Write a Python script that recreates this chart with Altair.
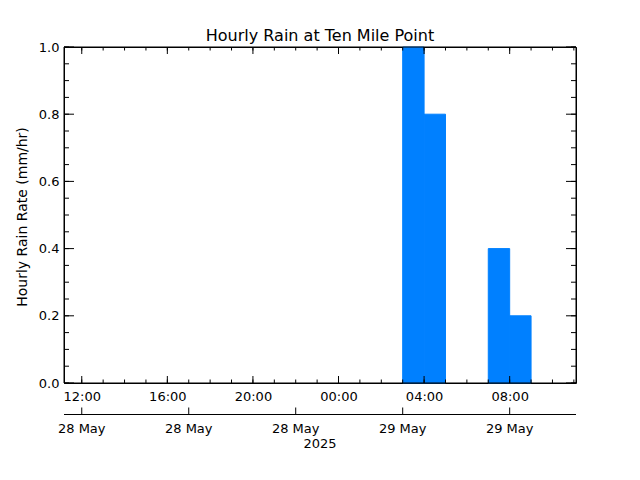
import altair as alt
import pandas as pd

# hours counted from 28 May 2025 00:00
bar_start = [27, 28, 31, 32]
bar_end = [28, 29, 32, 33]
rain = [1.0, 0.8, 0.4, 0.2]

x_domain = [11.17, 35.1]
x_major = [12, 16, 20, 24, 28, 32]
x_minor = list(range(12, 36))
y_major = [0.0, 0.2, 0.4, 0.6, 0.8, 1.0]
y_minor = [round(i * 0.05, 2) for i in range(21)]
date_ticks = [12, 17, 22, 27, 32]
date_labels = ["28 May", "28 May", "28 May", "29 May", "29 May"]
year_label = "2025"
title_text = "Hourly Rain at Ten Mile Point"

W, H = 512, 336
FONT = "DejaVu Sans"
BLUE = "#0080FF"

xs = alt.Scale(domain=x_domain, nice=False, zero=False)
ys = alt.Scale(domain=[0, 1], nice=False, zero=False)

bars_df = pd.DataFrame({"start": bar_start, "end": bar_end, "rain": rain})
xmaj_df = pd.DataFrame({"h": x_major})
xmin_df = pd.DataFrame({"h": x_minor})
ymaj_df = pd.DataFrame({"v": y_major})
ymin_df = pd.DataFrame({"v": y_minor})
date_df = pd.DataFrame({"h": date_ticks, "label": date_labels})

label_expr = "(datum.value % 24 < 10 ? '0' : '') + (datum.value % 24) + ':00'"

x_axis = alt.Axis(values=x_major, labelExpr=label_expr, tickSize=0, domain=False,
                  labelPadding=7, labelBaseline="top", labelFont=FONT,
                  labelFontSize=13, labelColor="black", title=None, grid=False,
                  labelFlush=False, labelOverlap=False)
y_axis = alt.Axis(values=y_major, format=".1f", tickSize=0, domain=False,
                  labelPadding=5, labelFont=FONT, labelFontSize=13,
                  labelColor="black", grid=False, labelFlush=False,
                  labelOverlap=False,
                  title="Hourly Rain Rate (mm/hr)", titleFont=FONT,
                  titleFontSize=14, titleFontWeight="normal", titleColor="black",
                  titleX=-42, titleY=169.5, titleAngle=270, titleAlign="center",
                  titleBaseline="middle")

bars = alt.Chart(bars_df).mark_rect(color=BLUE, stroke=BLUE, strokeWidth=1).encode(
    x=alt.X("start:Q", scale=xs, axis=x_axis),
    x2="end:Q",
    y=alt.Y("rain:Q", scale=ys, axis=y_axis),
    y2=alt.datum(0),
)

def xrule(df, y0, y1):
    return alt.Chart(df).mark_rule(color="black", strokeWidth=1).encode(
        x=alt.X("h:Q", scale=xs, axis=x_axis), y=alt.value(y0), y2=alt.value(y1))

def yrule(df, x0, x1):
    return alt.Chart(df).mark_rule(color="black", strokeWidth=1).encode(
        y=alt.Y("v:Q", scale=ys, axis=y_axis), x=alt.value(x0), x2=alt.value(x1))

ticks = [
    xrule(xmaj_df, H, H - 7), xrule(xmaj_df, 0, 7),
    xrule(xmin_df, H, H - 3.5), xrule(xmin_df, 0, 3.5),
    yrule(ymaj_df, 0, 10), yrule(ymaj_df, W, W - 10),
    yrule(ymin_df, 0, 5), yrule(ymin_df, W, W - 5),
]

frame = alt.Chart(pd.DataFrame({"t": [0]})).mark_rect(
    fill="white", fillOpacity=0, stroke="black", strokeWidth=1).encode(
    x=alt.value(0), x2=alt.value(W), y=alt.value(0), y2=alt.value(H))

DATE_Y = 367.5
date_line = alt.Chart(date_df).mark_rule(color="black", strokeWidth=1).encode(
    x=alt.value(0), x2=alt.value(W), y=alt.value(DATE_Y))
date_ticks_l = xrule(date_df, DATE_Y, DATE_Y - 7)
date_text = alt.Chart(date_df).mark_text(
    font=FONT, fontSize=13, baseline="alphabetic", align="center", color="black").encode(
    x=alt.X("h:Q", scale=xs, axis=x_axis), y=alt.value(385.5), text="label:N")
year_text = alt.Chart(pd.DataFrame({"t": [year_label]})).mark_text(
    font=FONT, fontSize=13, baseline="alphabetic", align="center", color="black").encode(
    x=alt.value(W / 2), y=alt.value(401), text="t:N")
title_mark = alt.Chart(pd.DataFrame({"t": [title_text]})).mark_text(
    font=FONT, fontSize=16, baseline="alphabetic", align="center", color="black").encode(
    x=alt.value(W / 2), y=alt.value(-6.3), text="t:N")

chart = alt.layer(bars, frame, *ticks, date_line, date_ticks_l, date_text, year_text,
                  title_mark).properties(
    width=W, height=H,
    autosize=alt.AutoSizeParams(type="none"),
    padding={"left": 56, "top": 39, "right": 56, "bottom": 89},
    background="white",
).configure_view(stroke="black", strokeWidth=1).configure_axis(grid=False)

chart.save("out.html", embed_options={"renderer": "svg", "actions": False})
